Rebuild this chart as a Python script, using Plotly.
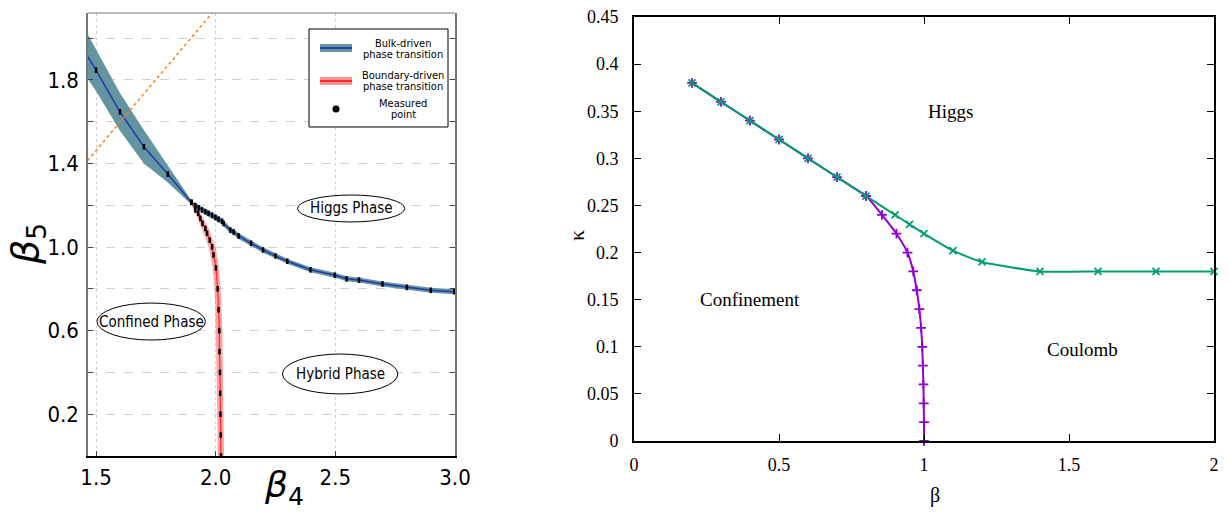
import plotly.graph_objects as go

W, H = 1229, 512

# ---------------- Left panel data ----------------
bulk_b4 = [1.45, 1.5, 1.6, 1.7, 1.8, 1.898, 1.915, 1.929, 1.943, 1.957, 1.970, 1.985, 1.999,
           2.012, 2.027, 2.033, 2.061, 2.075, 2.096, 2.148, 2.198, 2.25, 2.299, 2.396,
           2.498, 2.547, 2.599, 2.697, 2.799, 2.899, 2.997]
bulk_b5 = [1.94, 1.847, 1.647, 1.48, 1.349, 1.214, 1.198, 1.188, 1.177, 1.169, 1.161, 1.152, 1.142,
           1.133, 1.123, 1.113, 1.081, 1.072, 1.053, 1.018, 0.986, 0.957, 0.932, 0.891,
           0.865, 0.848, 0.842, 0.823, 0.807, 0.793, 0.786]
bulk_err = [0.11, 0.10, 0.09, 0.08, 0.04, 0.01, 0.012, 0.014, 0.015, 0.015, 0.015, 0.015, 0.015,
            0.015, 0.015, 0.015, 0.014, 0.014, 0.014, 0.013, 0.013, 0.013, 0.012, 0.012,
            0.012, 0.012, 0.012, 0.012, 0.012, 0.012, 0.012]

bnd_b5 = [1.214, 1.177, 1.161, 1.137, 1.113, 1.089, 1.066, 1.033, 1.001, 0.962, 0.9, 0.8,
          0.7, 0.6, 0.5, 0.4, 0.3, 0.2, 0.1, 0.0]
bnd_b4 = [1.9, 1.915, 1.927, 1.936, 1.945, 1.957, 1.964, 1.975, 1.985, 1.991, 2.001, 2.008,
          2.012, 2.015, 2.016, 2.018, 2.019, 2.020, 2.021, 2.022]
bnd_err = [0.004, 0.008, 0.010, 0.012, 0.013, 0.014, 0.014, 0.014, 0.014, 0.014, 0.013, 0.013,
           0.013, 0.013, 0.013, 0.013, 0.013, 0.013, 0.013, 0.013]

guide_b4 = [1.40, 2.10]
guide_b5 = [1.326, 2.276]

left_xticks = [1.5, 2.0, 2.5, 3.0]
left_xticktext = ["1.5", "2.0", "2.5", "3.0"]
left_yticks = [0.2, 0.4, 0.6, 0.8, 1.0, 1.2, 1.4, 1.6, 1.8, 2.0]
left_yticktext = ["0.2", "", "0.6", "", "1.0", "", "1.4", "", "1.8", ""]

# ---------------- Right panel data ----------------
purple_beta = [0.2, 0.3, 0.4, 0.5, 0.6, 0.7, 0.8, 0.855, 0.905, 0.943, 0.963, 0.975, 0.984,
               0.990, 0.994, 0.996, 0.998, 0.999, 1.0, 1.0]
purple_kappa = [0.38, 0.36, 0.34, 0.32, 0.30, 0.28, 0.26, 0.24, 0.22, 0.20, 0.18, 0.16, 0.14,
                0.12, 0.10, 0.08, 0.06, 0.04, 0.02, 0.0]
green_beta = [0.2, 0.3, 0.4, 0.5, 0.6, 0.7, 0.8, 0.9, 0.95, 1.0, 1.1, 1.2, 1.4, 1.6, 1.8, 2.0]
green_kappa = [0.38, 0.36, 0.34, 0.32, 0.30, 0.28, 0.26, 0.24, 0.23, 0.22, 0.202, 0.19,
               0.18, 0.18, 0.18, 0.18]

right_xticks = [0, 0.5, 1, 1.5, 2]
right_xticktext = ["0", "0.5", "1", "1.5", "2"]
right_yticks = [0, 0.05, 0.1, 0.15, 0.2, 0.25, 0.3, 0.35, 0.4, 0.45]
right_yticktext = ["0", "0.05", "0.1", "0.15", "0.2", "0.25", "0.3", "0.35", "0.4", "0.45"]


def px(x):
    return x / W


def py(y):
    return 1 - y / H


NARROW = "DejaVu Sans Condensed, Liberation Sans Narrow, Arial Narrow, sans-serif"
SERIF = "Liberation Serif, Times New Roman, serif"
LEG = "DejaVu Sans Condensed, DejaVu Sans, sans-serif"

TEAL = "rgb(100,148,160)"
BLUE = "rgb(30,60,170)"
PINK = "rgba(255,90,90,0.55)"
RED = "rgb(255,40,40)"

fig = go.Figure()

# blue band
fig.add_trace(go.Scatter(
    x=bulk_b4 + bulk_b4[::-1],
    y=[v + e for v, e in zip(bulk_b5, bulk_err)] + [v - e for v, e in zip(bulk_b5, bulk_err)][::-1],
    fill="toself", fillcolor=TEAL, line=dict(width=0), mode="lines",
    hoverinfo="skip", showlegend=False, xaxis="x", yaxis="y"))
# red band
fig.add_trace(go.Scatter(
    x=[v + e for v, e in zip(bnd_b4, bnd_err)] + [v - e for v, e in zip(bnd_b4, bnd_err)][::-1],
    y=bnd_b5 + bnd_b5[::-1],
    fill="toself", fillcolor=PINK, line=dict(width=0), mode="lines",
    hoverinfo="skip", showlegend=False, xaxis="x", yaxis="y"))
# lines
fig.add_trace(go.Scatter(x=bulk_b4, y=bulk_b5, mode="lines", line=dict(color=BLUE, width=1.5),
                         showlegend=False, xaxis="x", yaxis="y"))
fig.add_trace(go.Scatter(x=bnd_b4, y=bnd_b5, mode="lines", line=dict(color=RED, width=1.2, shape="spline"),
                         showlegend=False, xaxis="x", yaxis="y"))
# guide line
fig.add_trace(go.Scatter(x=guide_b4, y=guide_b5, mode="lines",
                         line=dict(color="#FF7F0E", width=1.5, dash="dot"),
                         showlegend=False, xaxis="x", yaxis="y"))
# measured points
fig.add_trace(go.Scatter(x=bulk_b4 + bnd_b4, y=bulk_b5 + bnd_b5, mode="markers",
                         marker=dict(symbol="line-ns", size=4, line=dict(color="black", width=2.5)),
                         showlegend=False, xaxis="x", yaxis="y"))

# right panel
fig.add_trace(go.Scatter(x=purple_beta, y=purple_kappa, mode="lines+markers",
                         line=dict(color="#9400D3", width=2, shape="spline", smoothing=0.6),
                         marker=dict(symbol="cross-thin", size=7, line=dict(color="#9400D3", width=1.8)),
                         cliponaxis=False, showlegend=False, xaxis="x2", yaxis="y2"))
fig.add_trace(go.Scatter(x=green_beta, y=green_kappa, mode="lines+markers",
                         line=dict(color="#009E73", width=2, shape="spline", smoothing=0.5),
                         marker=dict(symbol="x-thin", size=7, line=dict(color="#009E73", width=1.8)),
                         cliponaxis=False, showlegend=False, xaxis="x2", yaxis="y2"))

shapes = []
annotations = []

# ellipses (left)
ellipses = [("Higgs Phase", 2.342, 2.790, 1.120, 1.249),
            ("Confined Phase", 1.504, 1.957, 0.555, 0.732),
            ("Hybrid Phase", 2.279, 2.761, 0.297, 0.488)]
for label, x0, x1, y0, y1 in ellipses:
    shapes.append(dict(type="circle", xref="x", yref="y", x0=x0, x1=x1, y0=y0, y1=y1,
                       line=dict(color="black", width=1), fillcolor="white", layer="above"))
    annotations.append(dict(x=(x0 + x1) / 2, y=(y0 + y1) / 2, xref="x", yref="y", text=label,
                            xanchor="center", yanchor="middle",
                            showarrow=False, font=dict(family=NARROW, size=15, color="black")))

# top border of left panel
shapes.append(dict(type="line", xref="paper", yref="paper", x0=px(88), x1=px(455), y0=py(13), y1=py(13),
                   line=dict(color="#777", width=1)))

# legend (left)
shapes.append(dict(type="rect", xref="paper", yref="paper", x0=px(309), x1=px(448), y0=py(127), y1=py(29),
                   line=dict(color="black", width=1), fillcolor="white", layer="above"))
shapes.append(dict(type="rect", xref="paper", yref="paper", x0=px(320), x1=px(352), y0=py(52), y1=py(44),
                   line=dict(width=0), fillcolor=TEAL, layer="above"))
shapes.append(dict(type="line", xref="paper", yref="paper", x0=px(320), x1=px(352), y0=py(48), y1=py(48),
                   line=dict(color=BLUE, width=2), layer="above"))
shapes.append(dict(type="rect", xref="paper", yref="paper", x0=px(320), x1=px(352), y0=py(85), y1=py(77),
                   line=dict(width=0), fillcolor="rgba(255,120,120,0.8)", layer="above"))
shapes.append(dict(type="line", xref="paper", yref="paper", x0=px(320), x1=px(352), y0=py(81), y1=py(81),
                   line=dict(color=RED, width=2), layer="above"))
shapes.append(dict(type="circle", xref="paper", yref="paper", x0=px(332.5), x1=px(339.5), y0=py(112.5),
                   y1=py(105.5), line=dict(width=0), fillcolor="black", layer="above"))
for text, yy in [("Bulk-driven", 43), ("phase transition", 54), ("Boundary-driven", 75),
                 ("phase transition", 86), ("Measured", 103), ("point", 114)]:
    annotations.append(dict(x=px(403), y=py(yy), xref="paper", yref="paper", text=text, showarrow=False,
                            font=dict(family=LEG, size=11, color="black"), xanchor="center", yanchor="middle"))

# axis titles (left)
annotations.append(dict(x=px(27), y=py(244), xref="paper", yref="paper", text="<i>β</i><sub>5</sub>",
                        xanchor="center", yanchor="middle",
                        textangle=-90, showarrow=False, font=dict(family="DejaVu Sans", size=38, color="black")))
annotations.append(dict(x=px(284), y=py(487), xref="paper", yref="paper", text="<i>β</i><sub>4</sub>",
                        xanchor="center", yanchor="middle",
                        showarrow=False, font=dict(family="DejaVu Sans", size=36, color="black")))

# right panel labels
for text, bx, ky in [("Higgs", 1.09, 0.35), ("Confinement", 0.4, 0.15), ("Coulomb", 1.545, 0.097)]:
    annotations.append(dict(x=bx, y=ky, xref="x2", yref="y2", text=text, showarrow=False,
                            xanchor="center", yanchor="middle",
                            font=dict(family=SERIF, size=19, color="black")))
annotations.append(dict(x=px(935), y=py(495), xref="paper", yref="paper", text="β", showarrow=False,
                        xanchor="center", yanchor="middle",
                        font=dict(family=SERIF, size=20, color="black")))
annotations.append(dict(x=px(576), y=py(236), xref="paper", yref="paper", text="κ", showarrow=False,
                        xanchor="center", yanchor="middle",
                        textangle=-90, font=dict(family=SERIF, size=22, color="black")))

fig.update_layout(
    width=W, height=H, margin=dict(l=0, r=0, t=0, b=0, autoexpand=False),
    paper_bgcolor="white", plot_bgcolor="white", showlegend=False,
    shapes=shapes, annotations=annotations,
    xaxis=dict(domain=[px(88), px(455)], range=[1.4665, 3.0], tickvals=left_xticks, ticktext=left_xticktext,
               showgrid=True, gridcolor="#d0d0d0", griddash="dot", gridwidth=1,
               ticks="inside", ticklen=5, tickcolor="#444", showline=True, linecolor="black", linewidth=2,
               tickfont=dict(family=NARROW, size=22, color="black"), zeroline=False, anchor="y",
               ticklabelstandoff=1, automargin=False),
    yaxis=dict(domain=[py(456), py(13)], range=[0, 2.12], tickvals=left_yticks, ticktext=left_yticktext,
               showgrid=True, gridcolor="#d0d0d0", griddash="dash", gridwidth=1,
               ticks="inside", ticklen=5, tickcolor="#444", showline=True, linecolor="#777", linewidth=1.5,
               mirror="ticks",
               tickfont=dict(family=NARROW, size=22, color="black"), zeroline=False, anchor="x",
               ticklabelstandoff=3, automargin=False),
    xaxis2=dict(domain=[px(634), px(1214)], range=[0, 2], tickvals=right_xticks, ticktext=right_xticktext,
                showgrid=False, ticks="inside", ticklen=7, tickcolor="black", showline=True,
                linecolor="black", linewidth=2, mirror="allticks", zeroline=False, anchor="y2",
                tickfont=dict(family=SERIF, size=18, color="black"), ticklabelstandoff=6, automargin=False),
    yaxis2=dict(domain=[py(441), py(17)], range=[0, 0.45], tickvals=right_yticks, ticktext=right_yticktext,
                showgrid=False, ticks="inside", ticklen=7, tickcolor="black", showline=True,
                linecolor="black", linewidth=2, mirror="allticks", zeroline=False, anchor="x2",
                tickfont=dict(family=SERIF, size=18, color="black"), ticklabelstandoff=10, automargin=False),
)

fig.write_html("out.html")
